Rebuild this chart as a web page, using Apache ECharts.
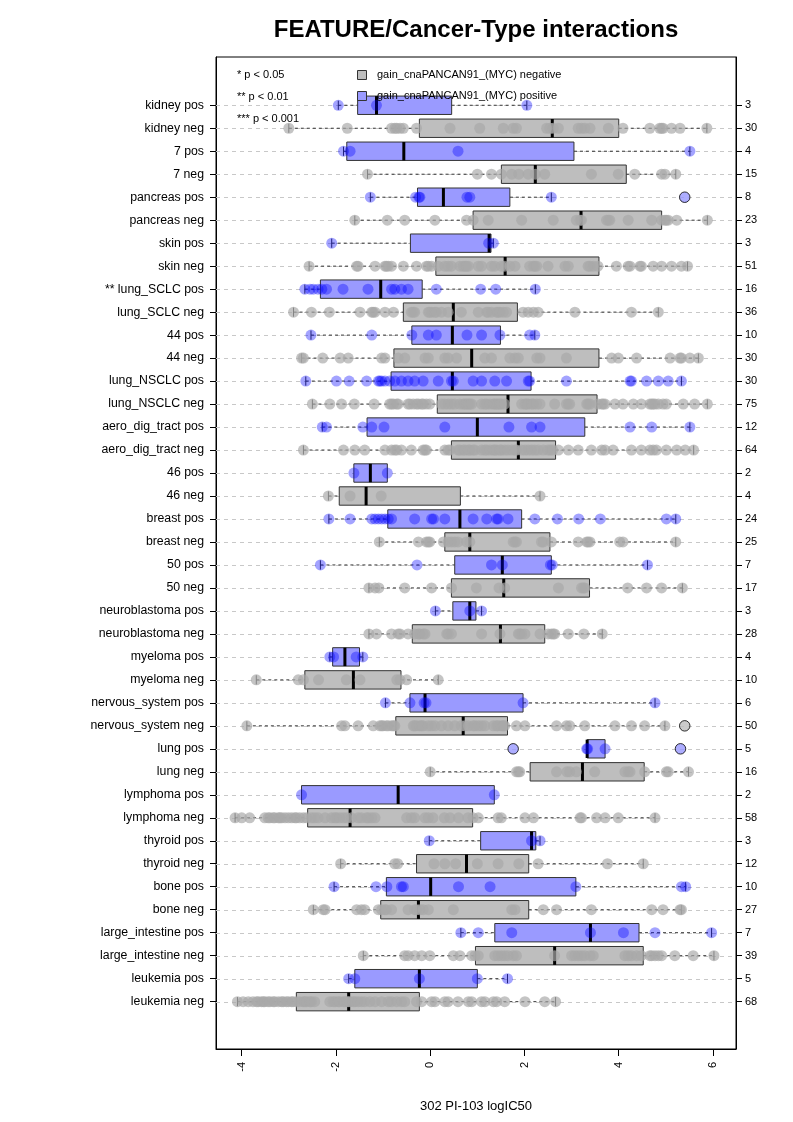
<!DOCTYPE html>
<html><head><meta charset="utf-8">
<script src="https://cdn.jsdelivr.net/npm/echarts@6.0.0/dist/echarts.min.js"></script>
<style>html,body{margin:0;padding:0;background:#fff}#c{width:793px;height:1122px}</style>
</head><body><div id="c"></div>
<script>
// ---------------- DATA (top to bottom) ----------------
const rowLabels = ['kidney pos','kidney neg','7 pos','7 neg','pancreas pos','pancreas neg','skin pos','skin neg',
 '** lung_SCLC pos','lung_SCLC neg','44 pos','44 neg','lung_NSCLC pos','lung_NSCLC neg','aero_dig_tract pos','aero_dig_tract neg',
 '46 pos','46 neg','breast pos','breast neg','50 pos','50 neg','neuroblastoma pos','neuroblastoma neg','myeloma pos','myeloma neg',
 'nervous_system pos','nervous_system neg','lung pos','lung neg','lymphoma pos','lymphoma neg','thyroid pos','thyroid neg',
 'bone pos','bone neg','large_intestine pos','large_intestine neg','leukemia pos','leukemia neg'];
const counts = [3,30,4,15,8,23,3,51,16,36,10,30,30,75,12,64,2,4,24,25,7,17,3,28,4,10,6,50,5,16,2,58,3,12,10,27,7,39,5,68];
const whiskerLow = [-1.95,-3.0,-1.84,-1.33,-1.27,-1.60,-2.09,-2.57,-2.66,-2.90,-2.53,-2.73,-2.64,-2.50,-2.29,-2.69,-1.62,-2.16,-2.15,-1.08,
 -2.33,-1.30,0.11,-1.30,-2.13,-3.69,-0.95,-3.89,3.33,0.00,-2.73,-4.14,-0.02,-1.90,-2.04,-2.48,0.65,-1.42,-1.73,-4.09];
const boxQ1 = [-1.54,-0.23,-1.77,1.51,-0.27,0.91,-0.42,0.12,-2.33,-0.57,-0.39,-0.77,-0.83,0.15,-1.34,0.45,-1.62,-1.93,-0.90,0.31,
 0.52,0.45,0.48,-0.38,-2.07,-2.66,-0.43,-0.73,3.33,2.12,-2.73,-2.60,1.07,-0.29,-0.93,-1.05,1.37,0.96,-1.60,-2.84];
const boxMedian = [-1.14,2.59,-0.56,2.23,0.28,3.20,1.25,1.59,-1.05,0.49,0.47,0.88,0.47,1.65,1.00,1.87,-1.27,-1.36,0.63,0.84,
 1.53,1.56,0.84,1.49,-1.81,-1.63,-0.11,0.70,3.33,3.23,-0.68,-1.70,2.15,0.77,0.01,-0.25,3.40,2.64,-0.23,-1.73];
const boxQ3 = [0.455,4.0,3.05,4.16,1.69,4.91,1.29,3.58,-0.17,1.85,1.49,3.58,2.14,3.54,3.28,2.66,-0.91,0.64,1.94,2.54,
 2.57,3.38,0.97,2.43,-1.50,-0.62,1.97,1.64,3.71,4.54,1.36,0.90,2.24,2.09,3.09,2.09,4.43,4.52,1.00,-0.23];
const whiskerHigh = [2.05,5.87,5.51,5.21,2.57,5.88,1.34,5.46,2.23,4.84,2.22,5.69,5.33,5.88,5.51,5.59,-0.91,2.33,5.21,5.21,
 4.61,5.35,1.09,3.65,-1.43,0.17,4.77,4.98,3.71,5.48,1.36,4.77,2.33,4.52,5.42,5.33,5.97,6.02,1.64,2.66];
const pointsByRow = [
 [-1.95,-1.14,2.05],
 [-3.0,-1.76,-0.82,-0.75,-0.71,-0.64,-0.57,-0.29,0.42,1.05,1.55,1.76,1.83,2.47,2.54,2.61,2.72,3.14,3.21,3.28,3.39,3.78,4.09,4.66,4.87,4.91,4.94,5.12,5.30,5.87],
 [-1.84,-1.70,0.59,5.51],
 [-1.33,1.0,1.30,1.51,1.73,1.88,2.08,2.23,2.43,3.42,3.99,4.34,4.91,4.98,5.21],
 [-1.27,-0.31,-0.24,-0.22,0.78,0.84,2.57],
 [-1.60,-0.91,-0.54,0.10,0.77,0.91,1.23,1.94,2.61,3.10,3.18,3.21,3.74,3.78,3.81,4.20,4.70,4.91,4.98,5.01,5.05,5.23,5.88],
 [-2.09,1.24,1.34],
 [-2.57,-1.56,-1.53,-1.17,-0.96,-0.93,-0.89,-0.82,-0.57,-0.29,-0.08,-0.04,0.03,0.17,0.31,0.38,0.45,0.63,0.70,0.74,0.77,0.81,1.02,1.09,1.30,1.37,1.51,1.58,1.69,1.80,2.11,2.19,2.22,2.26,2.50,2.86,2.93,3.35,3.39,3.46,3.56,3.95,4.20,4.24,4.45,4.48,4.73,4.91,5.12,5.33,5.46],
 [-2.66,-2.55,-2.48,-2.38,-2.30,-2.20,-1.85,-1.32,-0.82,-0.75,-0.61,-0.47,0.13,1.07,1.39,2.23],
 [-2.90,-2.52,-2.14,-1.49,-1.24,-1.21,-1.17,-0.96,-0.78,-0.40,-0.36,-0.33,-0.04,-0.01,0.03,0.10,0.13,0.24,0.38,0.66,1.02,1.20,1.23,1.30,1.41,1.44,1.48,1.55,1.62,1.97,2.08,2.19,2.29,3.07,4.27,4.84],
 [-2.53,-1.24,-0.39,-0.04,0.13,0.78,1.09,1.48,2.11,2.22],
 [-2.73,-2.69,-2.28,-1.91,-1.74,-1.03,-0.96,-0.68,-0.54,-0.11,-0.04,0.31,0.38,0.56,1.16,1.30,1.69,1.80,1.87,2.26,2.33,2.89,3.85,3.99,4.38,5.09,5.30,5.33,5.51,5.69],
 [-2.64,-1.99,-1.72,-1.35,-1.10,-1.07,-1.03,-0.96,-0.86,-0.75,-0.61,-0.47,-0.33,-0.15,0.17,0.45,0.49,0.91,1.09,1.37,1.62,2.08,2.11,2.89,4.24,4.27,4.59,4.84,5.05,5.33],
 [-2.50,-2.13,-1.88,-1.61,-1.19,-0.86,-0.82,-0.78,-0.71,-0.68,-0.47,-0.43,-0.36,-0.29,-0.25,-0.18,-0.15,-0.08,-0.01,0.24,0.31,0.38,0.45,0.52,0.63,0.70,0.74,0.77,0.81,0.84,0.88,1.09,1.16,1.20,1.27,1.34,1.37,1.41,1.44,1.48,1.51,1.58,1.94,2.01,2.04,2.08,2.15,2.19,2.26,2.33,2.64,2.89,2.93,2.96,3.32,3.35,3.39,3.56,3.64,3.67,3.71,3.92,4.09,4.31,4.48,4.66,4.70,4.73,4.77,4.84,4.94,5.01,5.37,5.61,5.88],
 [-2.29,-2.20,-1.43,-1.24,-0.98,0.31,1.67,2.15,2.33,4.24,4.70,5.51],
 [-2.69,-1.84,-1.60,-1.39,-0.96,-0.82,-0.75,-0.71,-0.61,-0.40,-0.15,-0.11,-0.08,0.31,0.38,0.42,0.59,0.63,0.70,0.74,0.81,0.84,0.91,0.95,1.09,1.16,1.20,1.27,1.34,1.37,1.41,1.48,1.51,1.58,1.65,1.73,1.80,1.83,1.94,2.01,2.08,2.15,2.22,2.29,2.40,2.50,2.55,2.60,2.72,2.93,3.14,3.42,3.64,3.71,3.88,4.27,4.48,4.66,4.73,4.80,5.01,5.23,5.41,5.59],
 [-1.62,-0.91],
 [-2.16,-1.70,-1.04,2.33],
 [-2.15,-1.70,-1.24,-1.17,-1.10,-1.03,-0.96,-0.89,-0.82,-0.33,0.03,0.07,0.31,0.91,1.20,1.41,1.44,1.65,2.22,2.70,3.15,3.61,5.01,5.21],
 [-1.08,-0.25,-0.08,-0.04,-0.01,0.28,0.38,0.45,0.52,0.59,0.77,0.84,1.76,1.80,1.83,2.36,2.40,2.57,3.14,3.32,3.35,3.39,4.02,4.09,5.21],
 [-2.33,-0.28,1.30,1.53,2.55,2.59,4.61],
 [-1.30,-1.17,-1.09,-0.54,0.03,0.45,0.98,1.46,1.58,2.72,3.21,3.25,3.28,4.19,4.59,4.91,5.35],
 [0.11,0.84,1.09],
 [-1.30,-1.14,-0.82,-0.68,-0.64,-0.47,-0.33,-0.25,-0.22,-0.15,-0.11,0.35,0.38,0.45,1.09,1.48,1.87,1.90,1.94,2.01,2.33,2.50,2.57,2.61,2.64,2.93,3.26,3.65],
 [-2.13,-2.05,-1.57,-1.43],
 [-3.69,-2.80,-2.69,-2.37,-1.78,-1.49,-0.71,-0.64,-0.50,0.17],
 [-0.95,-0.43,-0.13,-0.09,1.97,4.77],
 [-3.89,-1.88,-1.81,-1.53,-1.21,-1.07,-1.03,-1.00,-0.93,-0.89,-0.82,-0.78,-0.75,-0.36,-0.33,-0.29,-0.22,-0.18,-0.15,-0.04,0.03,0.10,0.24,0.38,0.52,0.66,0.74,0.81,0.91,0.95,1.02,1.09,1.16,1.34,1.41,1.44,1.51,1.55,1.58,1.83,2.01,2.68,2.89,2.96,3.28,3.92,4.27,4.55,4.98],
 [3.32,3.34,3.71],
 [0.00,1.83,1.87,1.90,2.68,2.90,2.96,3.10,3.49,4.13,4.20,4.24,4.55,5.01,5.05,5.48],
 [-2.73,1.36],
 [-4.14,-4.00,-3.83,-3.51,-3.44,-3.40,-3.33,-3.30,-3.22,-3.19,-3.15,-3.08,-3.01,-2.94,-2.87,-2.84,-2.77,-2.69,-2.62,-2.52,-2.45,-2.38,-2.23,-2.09,-2.02,-1.99,-1.92,-1.84,-1.77,-1.67,-1.53,-1.46,-1.35,-1.31,-1.24,-1.17,-0.50,-0.40,-0.33,-0.11,-0.04,0.06,0.30,0.42,0.60,0.80,0.91,1.02,1.44,1.51,2.01,2.19,3.18,3.21,3.53,3.71,3.99,4.77],
 [-0.02,2.15,2.33],
 [-1.90,-0.75,-0.69,0.08,0.31,0.54,1.00,1.44,1.88,2.29,3.76,4.52],
 [-2.04,-1.15,-0.92,-0.61,-0.57,0.60,1.27,3.09,5.33,5.42],
 [-2.48,-2.27,-2.23,-1.56,-1.46,-1.39,-1.10,-1.03,-0.96,-0.93,-0.82,-0.47,-0.33,-0.29,-0.22,-0.15,-0.04,0.49,1.73,1.80,2.40,2.68,3.42,4.70,4.94,5.30,5.33],
 [0.65,1.02,1.73,3.40,4.10,4.77,5.97],
 [-1.42,-0.54,-0.47,-0.33,-0.18,-0.01,0.49,0.63,0.88,0.95,1.02,1.37,1.44,1.51,1.58,1.65,1.76,1.83,2.64,3.00,3.07,3.14,3.21,3.28,3.39,3.46,4.13,4.20,4.27,4.38,4.48,4.66,4.70,4.77,4.84,4.91,5.19,5.58,6.02],
 [-1.73,-1.60,-0.23,1.00,1.64],
 [-4.09,-3.97,-3.86,-3.76,-3.68,-3.65,-3.58,-3.54,-3.51,-3.44,-3.40,-3.33,-3.30,-3.22,-3.15,-3.12,-3.05,-3.01,-2.94,-2.91,-2.84,-2.77,-2.69,-2.66,-2.62,-2.55,-2.52,-2.45,-2.13,-2.06,-2.02,-1.95,-1.92,-1.84,-1.81,-1.77,-1.74,-1.70,-1.63,-1.60,-1.53,-1.46,-1.39,-1.28,-1.17,-1.03,-0.89,-0.82,-0.71,-0.61,-0.54,-0.29,-0.18,0.03,0.10,0.31,0.38,0.59,0.81,0.88,1.09,1.16,1.34,1.41,1.58,2.01,2.43,2.66]
];
const outlierRows = [4, 27, 28, 28];
const outlierValues = [5.40, 5.40, 1.76, 5.31];
const xTicks = [-4, -2, 0, 2, 4, 6];
const starNotes = ['* p < 0.05', '** p < 0.01', '*** p < 0.001'];
const legendNames = ['gain_cnaPANCAN91_(MYC) negative', 'gain_cnaPANCAN91_(MYC) positive'];

// ---------------- BUILD ----------------
const N = rowLabels.length;
const rowPos = i => N - i;              // top row gets the largest value
const isPos = rowLabels.map(l => /pos$/.test(l) ? 1 : 0);
const rowTicks = rowLabels.map((_, i) => rowPos(i));

const boxData = rowLabels.map((_, i) => [rowPos(i), whiskerLow[i], boxQ1[i], boxMedian[i], boxQ3[i], whiskerHigh[i], isPos[i]]);
const negPts = [], posPts = [];
pointsByRow.forEach((arr, i) => arr.forEach(v => (isPos[i] ? posPts : negPts).push([v, rowPos(i)])));
const outData = outlierRows.map((r, k) => ({
  value: [outlierValues[k], rowPos(r)],
  itemStyle: { color: isPos[r] ? '#9999ff' : '#bebebe', borderColor: '#000', borderWidth: 1 }
}));

const FONT = '"Liberation Sans", Arial, Helvetica, sans-serif';
const BLUE_BOX = '#9a9aff', GRAY_BOX = '#bebebe';

function renderGrid(params, api) {
  const cs = params.coordSys;
  const y = Math.round(api.coord([0, api.value(0)])[1]) + 0.5;
  return { type: 'line', shape: { x1: cs.x, y1: y, x2: cs.x + cs.width, y2: y },
    style: { stroke: '#c8c8c8', lineWidth: 1, lineDash: [4, 4] } };
}

function renderBox(params, api) {
  const r = api.value(0);
  const y = api.coord([0, r])[1];
  const h = api.size([0, 1])[1] * 0.4;
  const xl = api.coord([api.value(1), r])[0];
  const x1 = api.coord([api.value(2), r])[0];
  const xm = api.coord([api.value(3), r])[0];
  const x3 = api.coord([api.value(4), r])[0];
  const xh = api.coord([api.value(5), r])[0];
  const pos = api.value(6);
  const wStyle = { stroke: '#333', lineWidth: 1, lineDash: [3, 3] };
  const sStyle = { stroke: '#333', lineWidth: 1 };
  const ch = [];
  if (xl < x1 - 0.5) {
    ch.push({ type: 'line', shape: { x1: xl, y1: y, x2: x1, y2: y }, style: wStyle });
    ch.push({ type: 'line', shape: { x1: xl, y1: y - h / 2, x2: xl, y2: y + h / 2 }, style: sStyle });
  }
  if (xh > x3 + 0.5) {
    ch.push({ type: 'line', shape: { x1: x3, y1: y, x2: xh, y2: y }, style: wStyle });
    ch.push({ type: 'line', shape: { x1: xh, y1: y - h / 2, x2: xh, y2: y + h / 2 }, style: sStyle });
  }
  ch.push({ type: 'rect', shape: { x: x1, y: y - h, width: x3 - x1, height: 2 * h },
    style: { fill: pos ? BLUE_BOX : GRAY_BOX, stroke: '#333', lineWidth: 1 } });
  ch.push({ type: 'line', shape: { x1: xm, y1: y - h, x2: xm, y2: y + h }, style: { stroke: '#000', lineWidth: 3 } });
  return { type: 'group', children: ch };
}

const chart = echarts.init(document.getElementById('c'), null, { renderer: 'canvas', width: 793, height: 1122 });

const textEls = [];
textEls.push({ type: 'text', x: 476, y: 30, style: { text: 'FEATURE/Cancer-Type interactions', font: 'bold 24px ' + FONT,
  fill: '#000', textAlign: 'center', textVerticalAlign: 'middle' }, z: 100 });
starNotes.forEach((t, k) => textEls.push({ type: 'text', x: 237, y: 75 + k * 22,
  style: { text: t, font: '11px ' + FONT, fill: '#000', textAlign: 'left', textVerticalAlign: 'middle' }, z: 100 }));
legendNames.forEach((t, k) => {
  const y = 75 + k * 21;
  textEls.push({ type: 'rect', shape: { x: 357.5, y: y - 4.5, width: 9, height: 9 },
    style: { fill: k ? BLUE_BOX : GRAY_BOX, stroke: '#333', lineWidth: 1 }, z: 100 });
  textEls.push({ type: 'text', x: 377, y: y, style: { text: t, font: '11px ' + FONT, fill: '#000',
    textAlign: 'left', textVerticalAlign: 'middle' }, z: 100 });
});

chart.setOption({
  animation: false,
  backgroundColor: '#fff',
  textStyle: { fontFamily: FONT },
  grid: { left: 216, right: 57, top: 57, bottom: 73, show: true, borderColor: '#000', borderWidth: 1, backgroundColor: 'transparent' },
  xAxis: {
    type: 'value', min: -4.545, max: 6.488,
    axisLine: { show: true, onZero: false, lineStyle: { color: '#000', width: 1 } },
    axisTick: { show: true, customValues: xTicks, length: 7, lineStyle: { color: '#000' } },
    axisLabel: { show: true, customValues: xTicks, rotate: 90, fontSize: 11, color: '#000', margin: 13, fontFamily: FONT },
    splitLine: { show: false },
    name: '302 PI-103 logIC50', nameLocation: 'middle', nameGap: 51,
    nameTextStyle: { fontSize: 13, color: '#000', fontFamily: FONT }
  },
  yAxis: [{
    type: 'value', min: -1.06, max: 42.1, position: 'left',
    axisLine: { show: true, onZero: false, lineStyle: { color: '#000' } },
    axisTick: { show: true, customValues: rowTicks, length: 6, lineStyle: { color: '#000' } },
    axisLabel: { show: true, customValues: rowTicks, fontSize: 12.3, color: '#000', margin: 12, fontFamily: FONT,
      formatter: v => rowLabels[N - Math.round(v)] },
    splitLine: { show: false }
  }, {
    type: 'value', min: -1.06, max: 42.1, position: 'right',
    axisLine: { show: true, onZero: false, lineStyle: { color: '#000' } },
    axisTick: { show: true, customValues: rowTicks, length: 6, lineStyle: { color: '#000' } },
    axisLabel: { show: true, customValues: rowTicks, fontSize: 11, color: '#000', margin: 9, fontFamily: FONT,
      formatter: v => String(counts[N - Math.round(v)]) },
    splitLine: { show: false }
  }],
  graphic: textEls,
  series: [
    { type: 'custom', name: 'grid', renderItem: renderGrid, data: rowTicks.map(r => [r]), encode: { y: 0 }, z: 1, silent: true, clip: true },
    { type: 'custom', name: 'boxes', renderItem: renderBox, data: boxData, encode: { x: [1, 2, 3, 4, 5], y: 0 }, z: 2, silent: true },
    { type: 'scatter', name: legendNames[0], data: negPts, symbol: 'circle', symbolSize: 11,
      itemStyle: { color: 'rgba(168,168,168,0.85)', borderWidth: 0 }, z: 3, silent: true },
    { type: 'scatter', name: legendNames[1], data: posPts, symbol: 'circle', symbolSize: 11,
      itemStyle: { color: 'rgba(0,0,255,0.45)', borderWidth: 0 }, z: 3, silent: true },
    { type: 'scatter', name: 'outliers', data: outData, symbol: 'circle', symbolSize: 10.5, z: 4, silent: true }
  ]
});
</script></body></html>
